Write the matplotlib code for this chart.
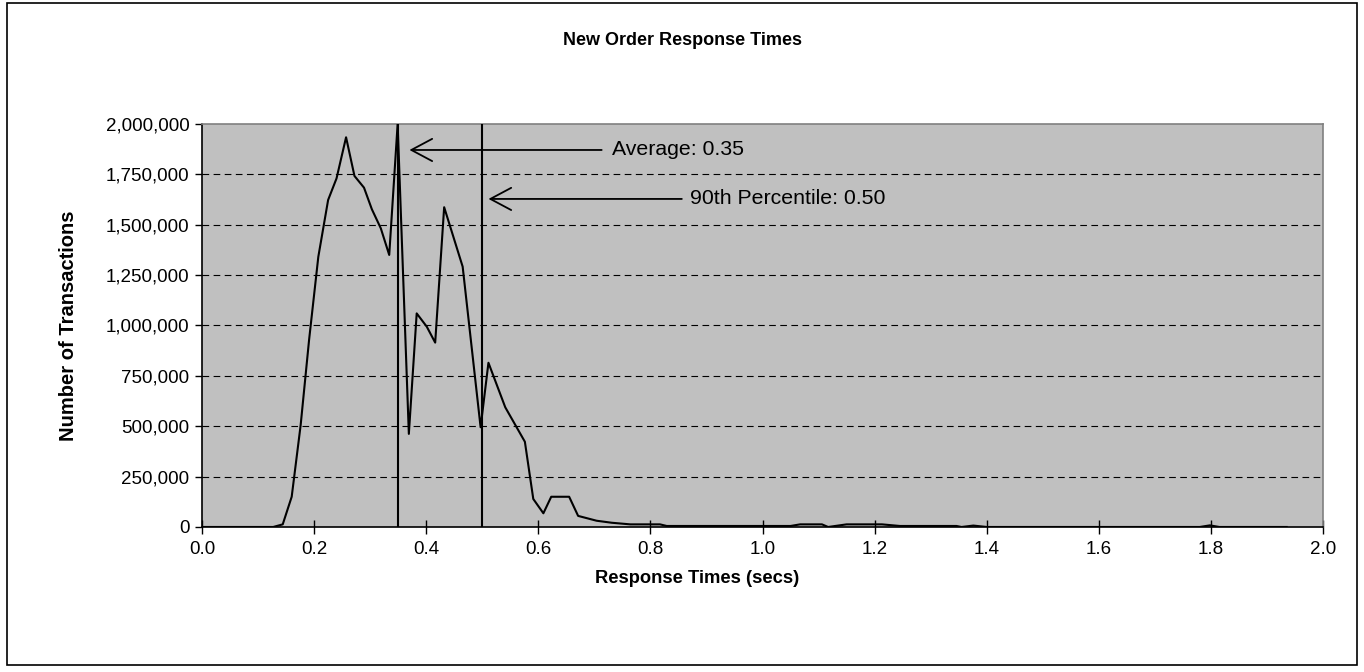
import matplotlib.pyplot as plt
from matplotlib.patches import Rectangle
from matplotlib.ticker import FuncFormatter

# tiempos de respuesta (s) y numero de transacciones
tiempo = [0.0, 0.127, 0.144, 0.160, 0.176, 0.191, 0.2075, 0.225, 0.240, 0.257,
          0.272, 0.289, 0.303, 0.319, 0.334, 0.349, 0.369, 0.383, 0.401, 0.416,
          0.432, 0.465, 0.497, 0.511, 0.541, 0.576, 0.591, 0.609, 0.623, 0.655,
          0.671, 0.704, 0.731, 0.764, 0.817, 0.829, 1.05, 1.067, 1.106, 1.117,
          1.150, 1.213, 1.245, 1.346, 1.355, 1.376, 1.40, 1.78, 1.798, 1.815, 1.935]
transacciones = [0, 0, 13e3, 150e3, 506e3, 928e3, 1341e3, 1623e3, 1730e3, 1934e3,
                 1742e3, 1684e3, 1577e3, 1482e3, 1350e3, 2000e3, 462e3, 1060e3, 994e3, 915e3,
                 1587e3, 1292e3, 495e3, 815e3, 594e3, 423e3, 139e3, 68e3, 150e3, 150e3,
                 55e3, 31e3, 21e3, 13e3, 13e3, 5e3, 5e3, 13e3, 13e3, 0,
                 13e3, 13e3, 5e3, 5e3, 0, 7e3, 0, 0, 8e3, 0, 0]

promedio = 0.35
percentil90 = 0.50

fig = plt.figure(figsize=(13.64, 6.72), dpi=100)
plt.rcParams['font.family'] = ['Liberation Sans', 'DejaVu Sans']
ax = fig.add_axes([0.1481, 0.2158, 0.8219, 0.5997])
ax.set_facecolor('#c0c0c0')

for g in range(250000, 2000000, 250000):
    ax.axhline(g, color='black', lw=0.8, ls=(0, (6, 4)), zorder=1)

ax.plot(tiempo, transacciones, color='black', lw=1.5, zorder=3, clip_on=True)
ax.axvline(promedio, color='black', lw=1.5, zorder=3)
ax.axvline(percentil90, color='black', lw=1.5, zorder=3)

flecha = dict(arrowstyle='->,head_length=1.5,head_width=0.8', color='black', lw=1.3,
              shrinkA=0, shrinkB=0)
ax.annotate('', xy=(0.370, 1871000), xytext=(0.713, 1871000), arrowprops=flecha)
ax.text(0.7315, 1871000, 'Average: 0.35', fontsize=15.3, va='center', ha='left')
ax.annotate('', xy=(0.511, 1628000), xytext=(0.856, 1628000), arrowprops=flecha)
ax.text(0.871, 1628000, '90th Percentile: 0.50', fontsize=15.3, va='center', ha='left')

ax.set_xlim(0, 2.0)
ax.set_ylim(0, 2000000)
ax.set_xticks([i * 0.2 for i in range(11)])
ax.set_xticklabels(['%.1f' % (i * 0.2) for i in range(11)])
ax.set_yticks(range(0, 2000001, 250000))
ax.yaxis.set_major_formatter(FuncFormatter(lambda v, p: '{:,.0f}'.format(v)))
ax.tick_params(axis='x', direction='inout', length=10, width=1, labelsize=13.5, pad=5)
ax.tick_params(axis='y', direction='out', length=5, width=1, labelsize=13.5, pad=4)

ax.spines['left'].set_color('black')
ax.spines['bottom'].set_color('black')
ax.spines['top'].set_color('#808080')
ax.spines['right'].set_color('#808080')
for s in ax.spines.values():
    s.set_linewidth(1.2)

ax.set_xlabel('Response Times (secs)', fontsize=13.2, fontweight='bold')
ax.xaxis.set_label_coords(0.4416, -0.107)
ax.set_ylabel('Number of Transactions', fontsize=14.5, fontweight='bold', labelpad=20)
fig.text(0.5007, 0.94, 'New Order Response Times', fontsize=13, fontweight='bold',
         ha='center', va='center')

fig.patches.append(Rectangle((7 / 1364, 1 - 665 / 672), 1350 / 1364, 662 / 672,
                             transform=fig.transFigure, fill=False, ec='black', lw=1.2))

plt.savefig('out.png')
